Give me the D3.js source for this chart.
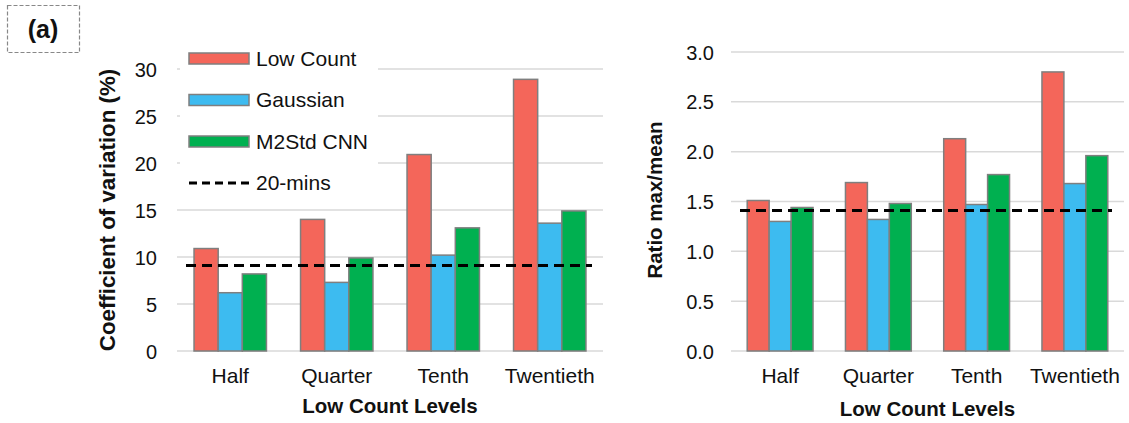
<!DOCTYPE html>
<html>
<head>
<meta charset="utf-8">
<script src="https://cdn.jsdelivr.net/npm/d3@7"></script>
<style>
body{margin:0;background:#fff;}
text{font-family:"Liberation Sans",Arial,sans-serif;fill:#111;}
.tick text{font-size:20px;}
.axisTitle{font-size:20.5px;font-weight:bold;}
</style>
</head>
<body>
<svg id="chart" width="1129" height="423"></svg>
<script>
var levels = ['Half','Quarter','Tenth','Twentieth'];
var seriesNames = ['Low Count','Gaussian','M2Std CNN'];
var seriesColors = ['#f4665a','#3dbbf0','#00b050'];

// coefficient of variation (%)
var cvLowCount = [10.9, 14.0, 20.9, 28.9];
var cvGaussian = [6.2, 7.3, 10.2, 13.6];
var cvM2Std = [8.2, 9.9, 13.1, 14.9];
var cvRef = 9.1;
var cvTicks = [0,5,10,15,20,25,30];

// ratio max/mean
var ratioLowCount = [1.51, 1.69, 2.13, 2.80];
var ratioGaussian = [1.30, 1.32, 1.47, 1.68];
var ratioM2Std = [1.44, 1.48, 1.77, 1.96];
var ratioRef = 1.41;
var ratioTicks = [0,0.5,1.0,1.5,2.0,2.5,3.0];

var svg = d3.select('#chart');

function buildPanel(opt) {
	var g = svg.append('g');
	var x = d3.scaleBand().domain(levels).range([opt.left,opt.right]).paddingInner(opt.pad).paddingOuter(opt.pad/2);
	var x1 = d3.scaleBand().domain(seriesNames).range([0,x.bandwidth()]);
	var y = d3.scaleLinear().domain([0,opt.max]).range([351,opt.top]);

	// gridlines
	g.append('g').selectAll('line').data(opt.ticks).enter().append('line')
		.attr('x1',opt.left).attr('x2',opt.right)
		.attr('y1',function(d){return y(d);}).attr('y2',function(d){return y(d);})
		.attr('stroke','#d9d9d9').attr('stroke-width',1.5);

	var yAxis = d3.axisLeft(y).tickValues(opt.ticks).tickSize(0).tickPadding(0).tickFormat(opt.fmt);
	var yAxisG = g.append('g').attr('transform','translate('+opt.tickX+',0)').call(yAxis);
	yAxisG.select('.domain').remove();
	yAxisG.selectAll('.tick text').attr('dy','0.35em');

	var xAxis = d3.axisBottom(x).tickSize(0).tickPadding(0);
	var xAxisG = g.append('g').attr('transform','translate(0,'+opt.xLabY+')').call(xAxis);
	xAxisG.select('.domain').remove();
	xAxisG.selectAll('.tick text').style('font-size','21px');

	var data = levels.map(function(l,i){
		return seriesNames.map(function(s,j){return {level:l,name:s,value:opt.series[j][i],color:seriesColors[j]};});
	});
	g.append('g').selectAll('g').data(data).enter().append('g')
		.attr('transform',function(d){return 'translate('+x(d[0].level)+',0)';})
		.selectAll('rect').data(function(d){return d;}).enter().append('rect')
		.attr('x',function(d){return x1(d.name);})
		.attr('y',function(d){return y(d.value);})
		.attr('width',x1.bandwidth())
		.attr('height',function(d){return y(0)-y(d.value);})
		.attr('fill',function(d){return d.color;})
		.attr('stroke','#7f7f7f').attr('stroke-width',1.5);

	g.append('line')
		.attr('x1',opt.dashL).attr('x2',opt.dashR)
		.attr('y1',y(opt.ref)).attr('y2',y(opt.ref))
		.attr('stroke','#000').attr('stroke-width',3).attr('stroke-dasharray','10,6');

	g.append('text').classed('axisTitle',true)
		.attr('text-anchor','middle')
		.style('font-size',opt.yTitleSize)
		.attr('transform','translate('+opt.yTitleX+','+opt.yTitleY+') rotate(-90)')
		.text(opt.yTitle);
	g.append('text').classed('axisTitle',true)
		.attr('text-anchor','middle')
		.attr('x',(opt.left+opt.right)/2).attr('y',opt.xTitleY)
		.text('Low Count Levels');
	return g;
}

buildPanel({left:177,right:603,top:69,max:30,pad:0.32,ticks:cvTicks,fmt:d3.format('d'),tickX:157,xLabY:368,
	series:[cvLowCount,cvGaussian,cvM2Std],ref:cvRef,dashL:186,dashR:592,
	yTitle:'Coefficient of variation (%)',yTitleSize:'22.3px',yTitleX:115,yTitleY:210,xTitleY:413});

buildPanel({left:731,right:1124,top:52,max:3,pad:0.33,ticks:ratioTicks,fmt:d3.format('.1f'),tickX:714,xLabY:368,
	series:[ratioLowCount,ratioGaussian,ratioM2Std],ref:ratioRef,dashL:740,dashR:1112,
	yTitle:'Ratio max/mean',yTitleSize:'20.5px',yTitleX:662,yTitleY:200,xTitleY:416});

// legend (covers the gridlines behind it)
var legend = svg.append('g');
legend.append('rect').attr('x',180).attr('y',38).attr('width',198).attr('height',156).attr('fill','#fff');
var legendItems = seriesNames.map(function(s,i){return {name:s,color:seriesColors[i]};});
legend.selectAll('rect.sw').data(legendItems).enter().append('rect').classed('sw',true)
	.attr('x',189).attr('y',function(d,i){return 53+i*41.5;})
	.attr('width',60).attr('height',11)
	.attr('fill',function(d){return d.color;})
	.attr('stroke','#7f7f7f').attr('stroke-width',1.5);
legend.selectAll('text').data(legendItems.concat([{name:'20-mins'}])).enter().append('text')
	.attr('x',256).attr('y',function(d,i){return 58.5+i*41.5;})
	.attr('dy','0.35em').style('font-size','21px')
	.text(function(d){return d.name;});
legend.append('line').attr('x1',189).attr('x2',249).attr('y1',183).attr('y2',183)
	.attr('stroke','#000').attr('stroke-width',3).attr('stroke-dasharray','8,5');

// panel tag
svg.append('rect').attr('x',7.5).attr('y',5.5).attr('width',72).attr('height',47)
	.attr('fill','none').attr('stroke','#888').attr('stroke-width',1.2).attr('stroke-dasharray','4,2');
svg.append('text').attr('x',43).attr('y',38).attr('text-anchor','middle')
	.style('font-size','25px').style('font-weight','bold').text('(a)');
</script>
</body>
</html>
